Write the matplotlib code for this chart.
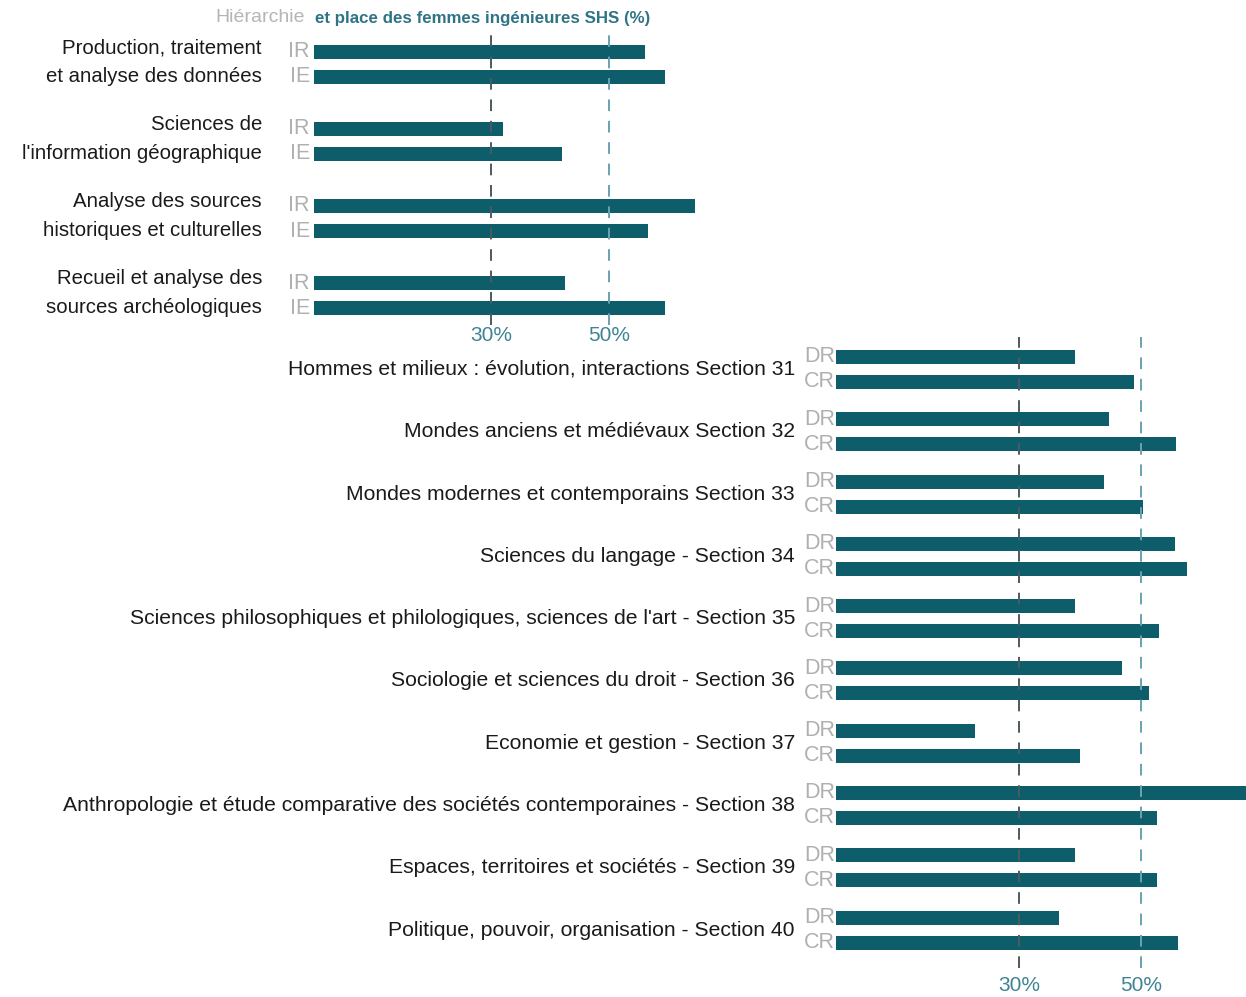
import matplotlib
matplotlib.use("Agg")
import matplotlib.pyplot as plt

plt.rcParams['font.family'] = ['Liberation Sans', 'DejaVu Sans']

# ---- data ----
top_categories = ["Production, traitement\net analyse des données",
                  "Sciences de\nl'information géographique",
                  "Analyse des sources\nhistoriques et culturelles",
                  "Recueil et analyse des\nsources archéologiques"]
top_levels = ["IR", "IE"]
top_IR = [56.1, 32.0, 64.6, 42.5]
top_IE = [59.5, 42.0, 56.6, 59.5]

bot_categories = ["Hommes et milieux : évolution, interactions Section 31",
                  "Mondes anciens et médiévaux Section 32",
                  "Mondes modernes et contemporains Section 33",
                  "Sciences du langage - Section 34",
                  "Sciences philosophiques et philologiques, sciences de l'art - Section 35",
                  "Sociologie et sciences du droit - Section 36",
                  "Economie et gestion - Section 37",
                  "Anthropologie et étude comparative des sociétés contemporaines - Section 38",
                  "Espaces, territoires et sociétés - Section 39",
                  "Politique, pouvoir, organisation - Section 40"]
bot_levels = ["DR", "CR"]
bot_DR = [39.2, 44.8, 43.9, 55.6, 39.2, 46.9, 22.8, 70.0, 39.2, 36.6]
bot_CR = [48.9, 55.7, 50.3, 57.5, 53.0, 51.3, 40.0, 52.6, 52.6, 56.1]

ref_ticks = [30, 50]
ref_labels = ["30%", "50%"]

# ---- style ----
BAR = '#0d5d6b'
GRAY = '#b0b0b0'
TEAL_TXT = '#3f8494'
LINE30 = '#4d5a5e'
LINE50 = '#6aa2b0'

W, H = 1246, 997
fig = plt.figure(figsize=(W / 100, H / 100), dpi=100)


def axes_px(l, t, r, b):
    return fig.add_axes([l / W, 1 - b / H, (r - l) / W, (b - t) / H])


def style(ax):
    for s in ax.spines.values():
        s.set_visible(False)
    ax.tick_params(axis='both', length=0)
    ax.set_yticks([])
    ax.set_xticks(ref_ticks)
    ax.set_xticklabels(ref_labels, color=TEAL_TXT, fontsize=15)
    ax.axvline(ref_ticks[0], color=LINE30, lw=1.4, ls=(0, (6, 5)), zorder=3)
    ax.axvline(ref_ticks[1], color=LINE50, lw=1.4, ls=(0, (6, 5)), zorder=3)


# ---- top panel ----
ax1 = axes_px(314, 35, 727, 325)
gap = 25 / 77
h1 = 14 / 77
ax1.set_xlim(0, 70)
ax1.set_ylim(3.545, -0.22)
style(ax1)
ax1.tick_params(axis='x', pad=1)
for i, cat in enumerate(top_categories):
    ax1.barh(i, top_IR[i], height=h1, color=BAR, zorder=2)
    ax1.barh(i + gap, top_IE[i], height=h1, color=BAR, zorder=2)
    for j, lev in enumerate(top_levels):
        ax1.annotate(lev, xy=(0, i + j * gap), xytext=(-4, 0), textcoords='offset pixels',
                     ha='right', va='center', color=GRAY, fontsize=15.5, annotation_clip=False)
    ax1.annotate(cat, xy=(0, i + gap / 2 - 0.03), xytext=(-52, 0), textcoords='offset pixels',
                 ha='right', va='center', color='#1a1a1a', fontsize=14.7, linespacing=1.68,
                 annotation_clip=False)

fig.text(305 / W, 1 - 17 / H, "Hiérarchie", ha='right', va='center', color='#b5b5b5', fontsize=14)
fig.text(315 / W, 1 - 18 / H, "et place des femmes ingénieures SHS (%)", ha='left', va='center',
         color='#2f7484', fontsize=12.2, fontweight='bold')

# ---- bottom panel ----
ax2 = axes_px(836, 337, 1246, 968)
gap2 = 25 / 62.3
h2 = 14 / 62.3
ax2.set_xlim(0, 67.2)
ax2.set_ylim(9.81, -0.32)
style(ax2)
ax2.tick_params(axis='x', pad=6)
for i, cat in enumerate(bot_categories):
    ax2.barh(i, bot_DR[i], height=h2, color=BAR, zorder=2)
    ax2.barh(i + gap2, bot_CR[i], height=h2, color=BAR, zorder=2)
    for j, lev in enumerate(bot_levels):
        ax2.annotate(lev, xy=(0, i + j * gap2), xytext=(-1, 0), textcoords='offset pixels',
                     ha='right', va='center', color=GRAY, fontsize=15.5, annotation_clip=False)
    ax2.annotate(cat, xy=(0, i + gap2 / 2), xytext=(-41, 0), textcoords='offset pixels',
                 ha='right', va='center', color='#1a1a1a', fontsize=15.2, annotation_clip=False)

fig.savefig("out.png", dpi=100, facecolor='white')
